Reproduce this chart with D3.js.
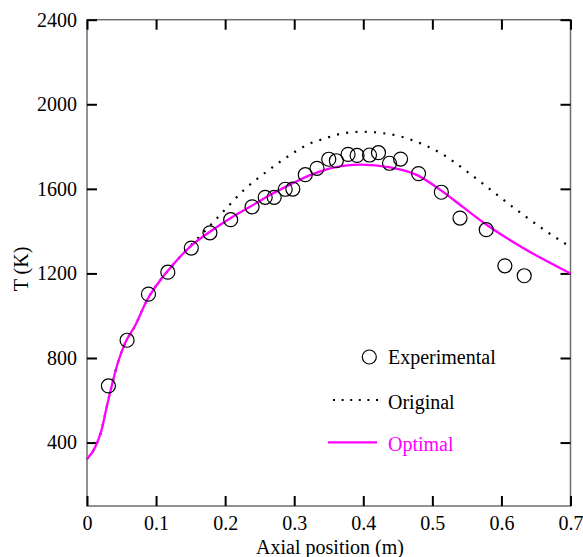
<!DOCTYPE html>
<html><head><meta charset="utf-8">
<script src="https://cdn.jsdelivr.net/npm/d3@7"></script>
<style>body{margin:0;background:#fff}svg{display:block}svg text{font-family:"Liberation Serif","Times New Roman","DejaVu Serif",serif !important}</style>
</head><body><svg id="c" width="583" height="557"></svg>
<script>
const expX = [0.031,0.058,0.089,0.117,0.151,0.178,0.208,0.239,0.258,0.271,0.287,0.298,0.316,0.333,0.350,0.361,0.378,0.391,0.409,0.422,0.438,0.454,0.480,0.513,0.540,0.578,0.605,0.633];
const expT = [668,884,1102,1206,1320,1392,1454,1515,1560,1560,1598,1599,1667,1697,1740,1733,1763,1758,1760,1771,1721,1741,1672,1584,1462,1407,1236,1189];
const optX = [0,0.012,0.021,0.0285,0.036,0.045,0.055,0.070,0.087,0.106,0.118,0.149,0.178,0.207,0.236,0.265,0.294,0.323,0.352,0.396,0.439,0.478,0.512,0.545,0.579,0.637,0.700];
const optT = [322,379,458,568,671,781,869,955,1074,1168,1216,1326,1397,1460,1515,1571,1620,1665,1697,1715,1702,1665,1594,1512,1429,1310,1200];
const origX = [0,0.012,0.021,0.0285,0.036,0.045,0.055,0.070,0.087,0.106,0.118,0.140,0.169,0.198,0.227,0.260,0.294,0.318,0.345,0.371,0.400,0.429,0.455,0.483,0.519,0.531,0.565,0.599,0.632,0.666,0.700];
const origT = [322,379,458,568,671,781,869,955,1074,1168,1216,1298,1395,1495,1594,1681,1760,1807,1839,1863,1870,1863,1847,1815,1755,1728,1645,1558,1476,1397,1325];
const xTicks = [0,0.1,0.2,0.3,0.4,0.5,0.6,0.7];
const yTicks = [400,800,1200,1600,2000,2400];
const legendLabels = ["Experimental","Original","Optimal"];

const FONT = "'Liberation Serif','Times New Roman','DejaVu Serif',serif";
const svg = d3.select("#c");
const L=87, R=570.5, T=19.7, B=506;
const x = d3.scaleLinear().domain([0,0.7]).range([L,R]);
const y = d3.scaleLinear().domain([100,2400]).range([B,T]);

// frame
svg.append("rect").attr("x",L).attr("y",T).attr("width",R-L).attr("height",B-T)
  .attr("fill","none").attr("stroke","#6e6e6e").attr("stroke-width",1.5);

const tl=10;
const gx = svg.append("g").attr("transform",`translate(0,${B})`)
  .call(d3.axisBottom(x).tickValues(xTicks).tickSizeInner(-tl).tickSizeOuter(0).tickPadding(10)
  .tickFormat(d=>d===0?"0":d3.format(".1f")(d)));
const gxt = svg.append("g").attr("transform",`translate(0,${T})`)
  .call(d3.axisTop(x).tickValues(xTicks).tickSizeInner(-tl).tickSizeOuter(0).tickFormat(""));
const gy = svg.append("g").attr("transform",`translate(${L},0)`)
  .call(d3.axisLeft(y).tickValues(yTicks).tickSizeInner(-tl).tickSizeOuter(0).tickPadding(10).tickFormat(d3.format("d")));
const gyr = svg.append("g").attr("transform",`translate(${R},0)`)
  .call(d3.axisRight(y).tickValues(yTicks).tickSizeInner(-tl).tickSizeOuter(0).tickFormat(""));
[gx,gxt,gy,gyr].forEach(g=>{
  g.attr("font-family",FONT).attr("font-size",20);
  g.select(".domain").remove();
  g.selectAll(".tick line").attr("stroke","#000").attr("stroke-width",2);
  g.selectAll("text").attr("fill","#000").style("font-family",FONT).style("font-size","20px");
});

// curves
const line = d3.line().curve(d3.curveMonotoneX);
svg.append("path").attr("d",line(origX.map((v,i)=>[x(v),y(origT[i])])))
  .attr("fill","none").attr("stroke","#000").attr("stroke-width",2.2).attr("stroke-dasharray","2,7.3");
svg.append("path").attr("d",line(optX.map((v,i)=>[x(v),y(optT[i])])))
  .attr("fill","none").attr("stroke","#ff00ff").attr("stroke-width",2.3);
svg.append("g").selectAll("circle").data(expX).join("circle")
  .attr("cx",d=>x(d)).attr("cy",(d,i)=>y(expT[i])).attr("r",7)
  .attr("fill","none").attr("stroke","#000").attr("stroke-width",1.2);

// legend
const lg = svg.append("g");
lg.append("circle").attr("cx",369.3).attr("cy",357).attr("r",7).attr("fill","none").attr("stroke","#000").attr("stroke-width",1.2);
lg.append("text").attr("x",388).attr("y",363.5).text(legendLabels[0]);
lg.append("line").attr("x1",333).attr("x2",378).attr("y1",400).attr("y2",400)
  .attr("stroke","#000").attr("stroke-width",2.2).attr("stroke-dasharray","2,6.6");
lg.append("text").attr("x",388).attr("y",409).text(legendLabels[1]);
lg.append("line").attr("x1",328).attr("x2",377).attr("y1",442.3).attr("y2",442.3)
  .attr("stroke","#ff00ff").attr("stroke-width",2.3);
lg.append("text").attr("x",388).attr("y",450.5).attr("fill","#ff00ff").text(legendLabels[2]);

// axis titles
svg.append("text").attr("x",330).attr("y",554).attr("text-anchor","middle").text("Axial position (m)");
svg.append("text").attr("transform","translate(28,269) rotate(-90)").attr("text-anchor","middle").text("T (K)");
svg.selectAll("g > text, svg > text").style("font-family",FONT).style("font-size","20px");
lg.selectAll("text").style("font-family",FONT).style("font-size","20px");
</script></body></html>
